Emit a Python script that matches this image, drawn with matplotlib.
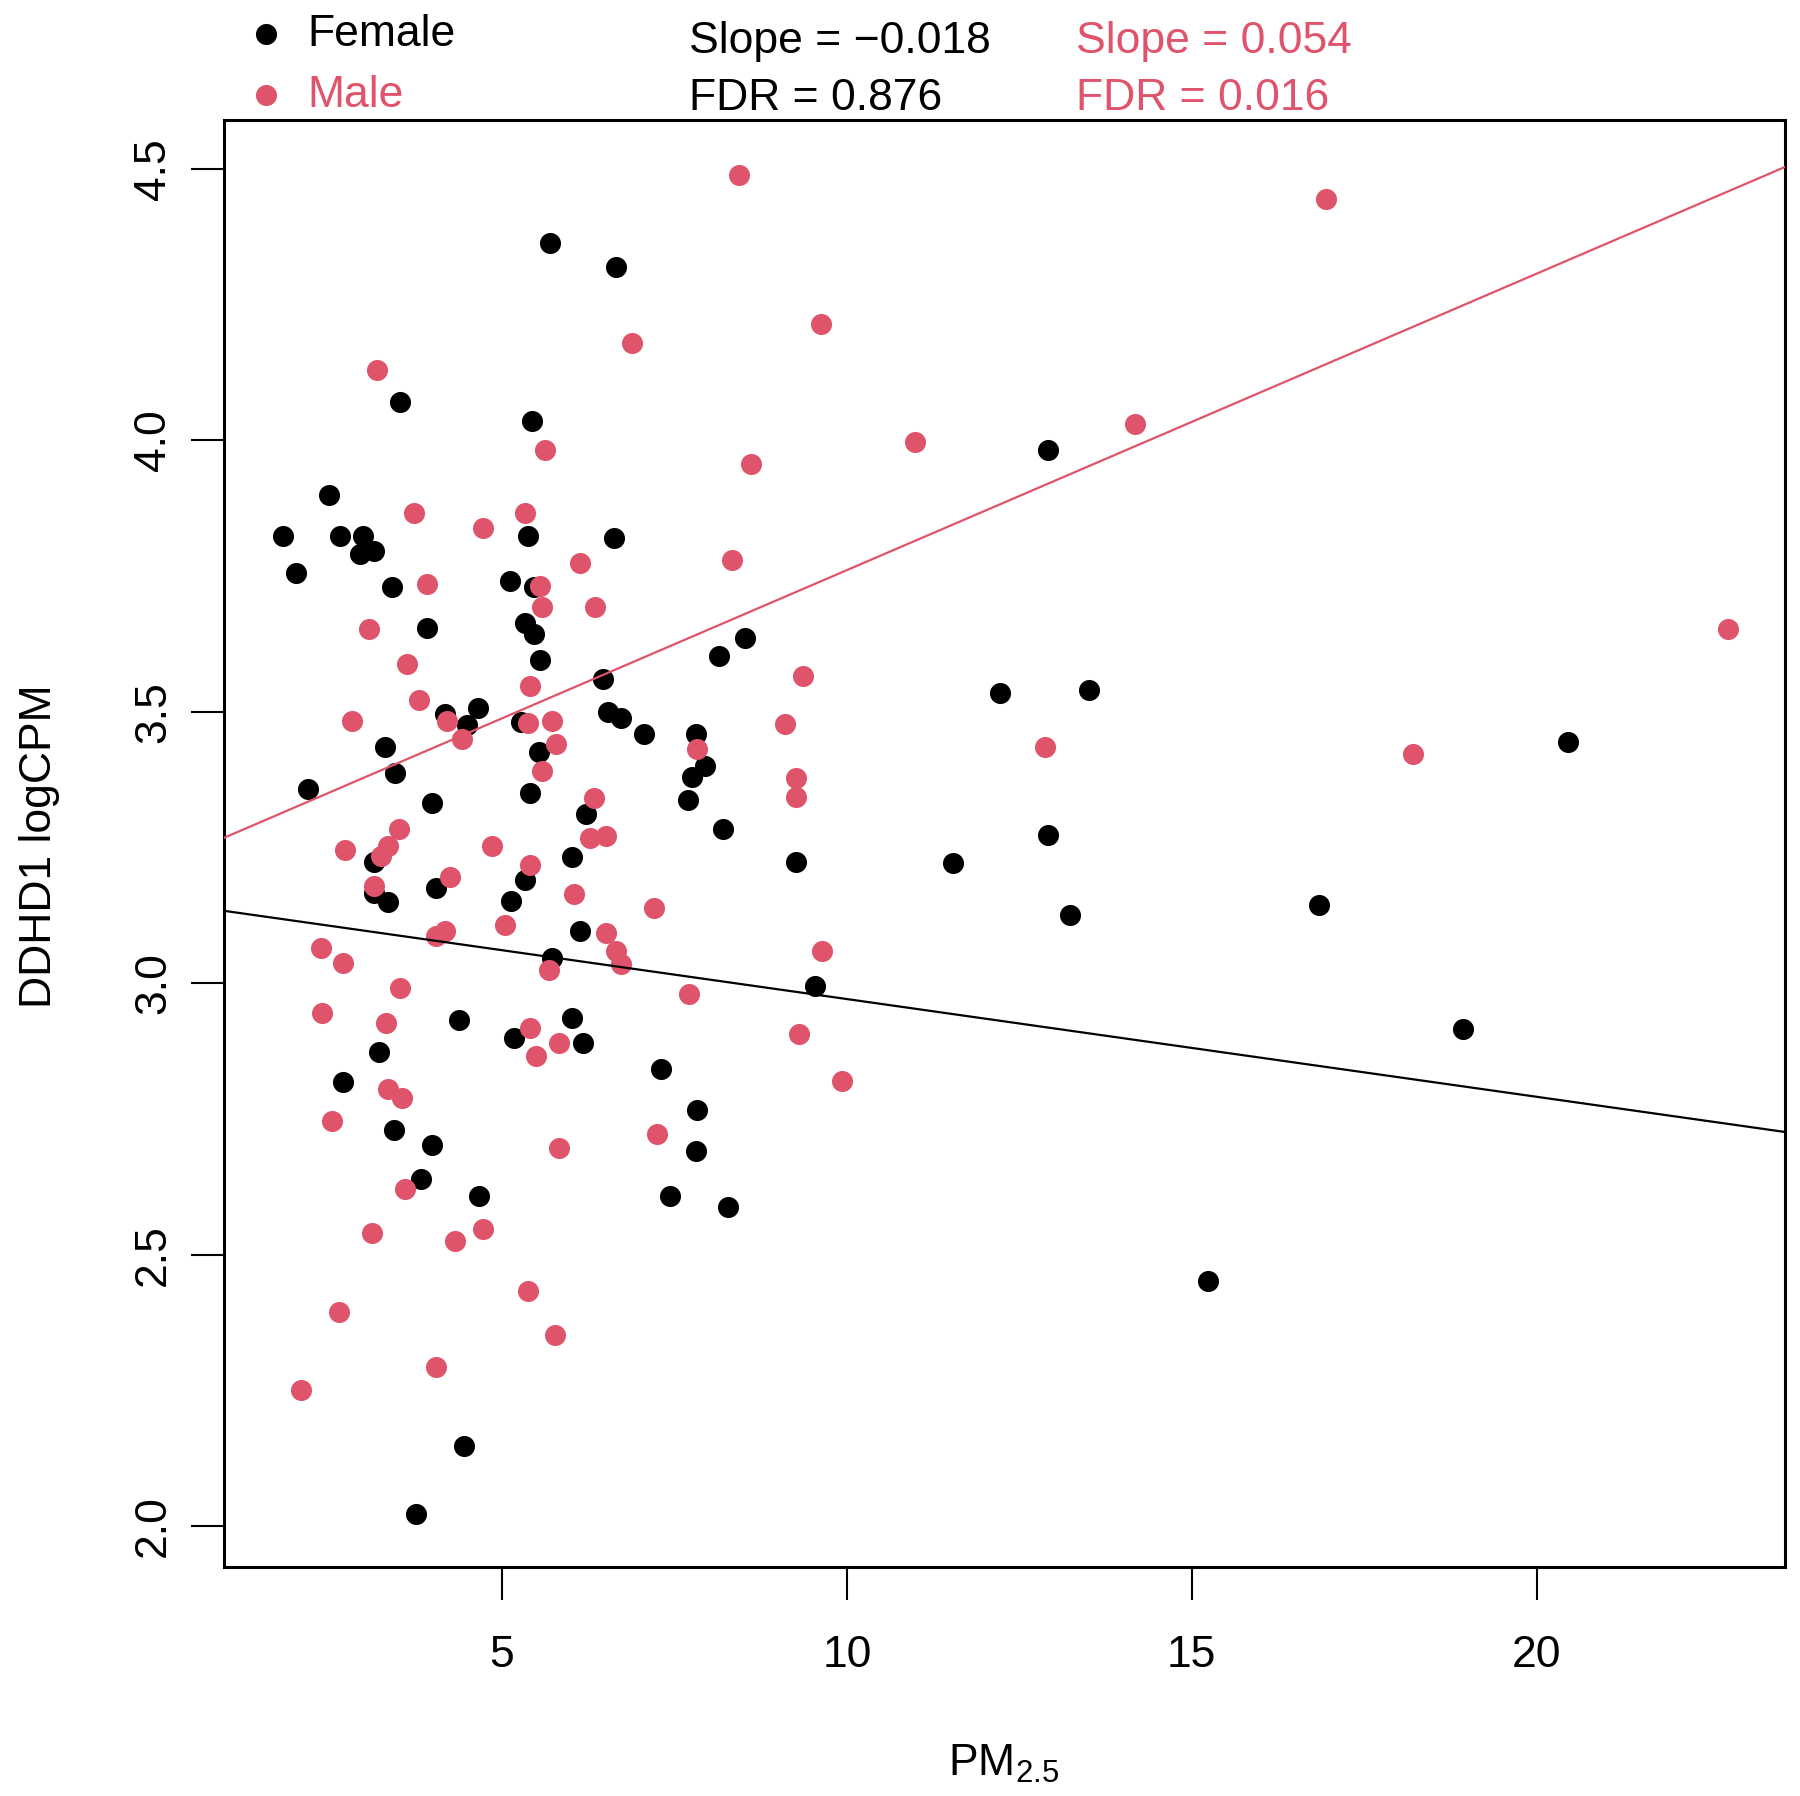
import numpy as np
import matplotlib
matplotlib.use('Agg')
import matplotlib.pyplot as plt
from matplotlib import font_manager

# PM2.5 exposure vs DDHD1 expression
female_pm = [1.82, 2.02, 2.49, 2.65, 2.99, 2.94, 3.14, 3.40, 3.52, 3.92,
             2.19, 3.30, 3.45, 3.98, 4.17, 4.50, 4.65, 3.15, 3.14, 3.35,
             4.05, 3.22, 2.70, 4.37, 3.44, 3.98, 3.82, 4.67, 4.45, 3.75,
             5.70, 6.65, 5.43, 5.37, 5.12, 5.47, 5.33, 5.47, 5.55, 6.63,
             5.27, 5.53, 5.40, 5.33, 5.13, 6.22, 6.02, 6.13, 5.73, 5.18,
             6.02, 6.17, 6.46, 6.53, 6.73, 7.06, 8.15, 8.53, 7.81, 7.95,
             7.76, 7.70, 8.21, 9.26, 9.54, 7.31, 7.83, 7.81, 7.43, 8.28,
             12.92, 12.22, 13.51, 11.54, 12.91, 13.24, 16.84, 18.93, 20.45, 15.24]
female_expr = [3.824, 3.756, 3.900, 3.824, 3.824, 3.790, 3.796, 3.729, 4.071, 3.655,
               3.357, 3.435, 3.388, 3.333, 3.496, 3.475, 3.507, 3.224, 3.167, 3.150,
               3.175, 2.873, 2.818, 2.932, 2.729, 2.702, 2.640, 2.609, 2.148, 2.023,
               4.363, 4.320, 4.035, 3.824, 3.741, 3.729, 3.663, 3.644, 3.595, 3.820,
               3.481, 3.426, 3.350, 3.190, 3.152, 3.312, 3.232, 3.097, 3.046, 2.900,
               2.936, 2.890, 3.560, 3.500, 3.488, 3.460, 3.602, 3.636, 3.460, 3.401,
               3.380, 3.338, 3.285, 3.224, 2.995, 2.843, 2.767, 2.691, 2.609, 2.588,
               3.982, 3.534, 3.541, 3.221, 3.274, 3.126, 3.145, 2.915, 3.445, 2.452]

male_pm = [3.19, 3.72, 4.73, 3.92, 3.07, 3.63, 3.80, 2.82, 4.20, 4.42,
           3.50, 3.35, 2.72, 3.24, 4.25, 3.14, 4.05, 4.17, 2.37, 2.69,
           3.52, 2.39, 3.32, 3.35, 3.55, 2.54, 3.60, 3.12, 4.32, 4.72,
           2.64, 4.05, 2.09, 4.85, 5.05, 8.43, 9.63, 6.88, 5.62, 8.61,
           10.99, 14.17, 16.95, 22.78, 18.20, 12.87, 5.33, 8.33, 6.13, 5.55,
           5.58, 6.35, 5.40, 5.38, 5.72, 5.78, 5.58, 9.36, 9.10, 7.83,
           6.33, 6.28, 6.51, 9.26, 9.26, 5.40, 6.05, 7.20, 6.51, 6.65,
           6.73, 5.68, 9.64, 7.71, 5.40, 5.83, 5.50, 9.30, 9.93, 5.82,
           7.25, 5.37, 5.77]
male_expr = [4.130, 3.866, 3.839, 3.735, 3.653, 3.589, 3.522, 3.484, 3.484, 3.450,
             3.285, 3.253, 3.245, 3.234, 3.196, 3.179, 3.088, 3.097, 3.065, 3.038,
             2.991, 2.945, 2.926, 2.805, 2.788, 2.746, 2.621, 2.541, 2.526, 2.547,
             2.395, 2.294, 2.251, 3.253, 3.107, 4.489, 4.215, 4.179, 3.982, 3.957,
             3.997, 4.031, 4.445, 3.653, 3.422, 3.435, 3.866, 3.779, 3.775, 3.731,
             3.693, 3.693, 3.547, 3.479, 3.484, 3.441, 3.391, 3.566, 3.477, 3.431,
             3.342, 3.268, 3.272, 3.378, 3.344, 3.217, 3.164, 3.139, 3.092, 3.059,
             3.036, 3.025, 3.059, 2.981, 2.917, 2.890, 2.866, 2.907, 2.820, 2.697,
             2.723, 2.433, 2.353]

# fitted lines (intercept, slope) and stats
female_fit = (3.151, -0.018)
male_fit = (3.215, 0.0546)
female_stats = ['Slope = \u22120.018', 'FDR = 0.876']
male_stats = ['Slope = 0.054', 'FDR = 0.016']

pink = '#DF536B'

names = {f.name for f in font_manager.fontManager.ttflist}
if 'Liberation Sans Narrow' in names:
    fam = 'Liberation Sans Narrow'
    fs = 38
else:
    fam = 'Liberation Sans'
    fs = 32
plt.rcParams['font.family'] = [fam, 'DejaVu Sans']
plt.rcParams['mathtext.default'] = 'regular'

W, H = 1800, 1796
fig = plt.figure(figsize=(18, 17.96), dpi=100)
ax = fig.add_axes([224 / W, 1 - 1567 / H, (1785 - 224) / W, (1567 - 120) / H])

ms = 230
ax.scatter(female_pm, female_expr, s=ms, color='black', linewidths=0, zorder=2)
ax.scatter(male_pm, male_expr, s=ms, color=pink, linewidths=0, zorder=3)
ax.axline((0, female_fit[0]), slope=female_fit[1], color='black', lw=1.6, zorder=4)
ax.axline((0, male_fit[0]), slope=male_fit[1], color=pink, lw=1.6, zorder=4)

ax.set_xlim(0.97, 23.6)
ax.set_ylim(1.925, 4.59)
ax.set_xticks([5, 10, 15, 20])
ax.set_yticks([2.0, 2.5, 3.0, 3.5, 4.0, 4.5])
ax.set_yticklabels(['2.0', '2.5', '3.0', '3.5', '4.0', '4.5'])
for sp in ax.spines.values():
    sp.set_linewidth(2.2)
ax.tick_params(axis='both', length=24, width=1.5, labelsize=fs)
ax.tick_params(axis='x', pad=25)
ax.tick_params(axis='y', pad=12, labelrotation=90)
for lab in ax.get_yticklabels():
    lab.set_va('center')

fig.text(40 / W, 1 - 846 / H, 'DDHD1 logCPM', rotation=90, ha='center', va='center', fontsize=fs)
fig.text(1004 / W, 1 - 1776 / H, 'PM$_{2.5}$', ha='center', va='baseline', fontsize=fs)

# legend
h1 = ax.scatter([], [], s=ms, color='black', linewidths=0)
h2 = ax.scatter([], [], s=ms, color=pink, linewidths=0)
fig.legend([h1, h2], ['Female', 'Male'], loc='upper left', bbox_to_anchor=(248 / W, 1 - 14 / H),
           frameon=False, fontsize=fs, labelcolor=['black', pink], handlelength=0.8,
           handletextpad=0.53, borderpad=0, borderaxespad=0, labelspacing=0.45)

fig.text(689 / W, 1 - 53 / H, female_stats[0], ha='left', va='baseline', fontsize=fs)
fig.text(689 / W, 1 - 110 / H, female_stats[1], ha='left', va='baseline', fontsize=fs)
fig.text(1076 / W, 1 - 53 / H, male_stats[0], ha='left', va='baseline', fontsize=fs, color=pink)
fig.text(1076 / W, 1 - 110 / H, male_stats[1], ha='left', va='baseline', fontsize=fs, color=pink)

fig.savefig('out.png', dpi=100)
